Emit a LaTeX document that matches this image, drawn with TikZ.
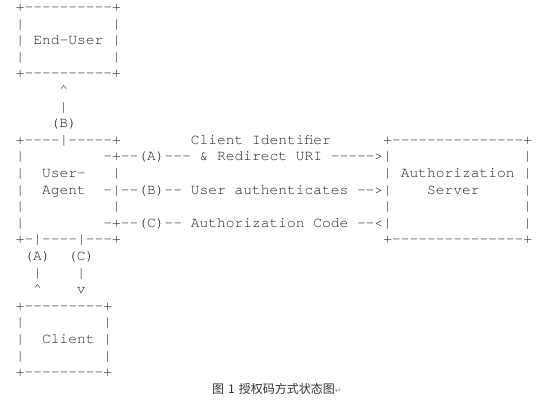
\documentclass[tikz,border=0pt]{standalone}
\usepackage{fontspec}
\setmonofont{TeX Gyre Cursor}
\newfontfamily\cjkfont{Noto Sans CJK SC}
\newfontfamily\symfont{DejaVu Sans}

\begin{document}
\begin{tikzpicture}[x=1bp, y=-1bp,
    ascii/.style={inner sep=0pt, align=left, anchor=base west, text=black!85,
        font=\fontsize{14.58bp}{16.6bp}\selectfont\ttfamily},
    linktxt/.style={ascii, align=center, anchor=base},
    caption/.style={inner sep=0pt, anchor=base west, text=black!80,
        font=\fontsize{12bp}{14bp}\selectfont\cjkfont}
]
    \useasboundingbox[fill=white] (0,0) rectangle (536,402);

    % boxes (placed at the baseline of their last row)
    \node[ascii] (enduser) at (15.6,77.9)
        {+----------+\\|~~~~~~~~~~|\\|~End-User~|\\|~~~~~~~~~~|\\+----------+};
    \node[ascii] (agent) at (15.6,243.9)
        {+----|-----+\\|~~~~~~~~~-+\\|~~User-~~~|\\|~~Agent~~-|\\|~~~~~~~~~~|\\|~~~~~~~~~-+\\+-|----|---+};
    \node[ascii] (server) at (383.1,243.9)
        {+---------------+\\|~~~~~~~~~~~~~~~|\\|~Authorization~|\\|~~~~Server~~~~~|\\|~~~~~~~~~~~~~~~|\\|~~~~~~~~~~~~~~~|\\+---------------+};
    \node[ascii] (client) at (15.6,376.7)
        {+---------+\\|~~~~~~~~~|\\|~~Client~|\\|~~~~~~~~~|\\+---------+};

    % flows
    \node[linktxt] (linkb) at (63.75,127.7) {\textasciicircum\\|\\(B)};
    \node[ascii] (flowa) at (120.6,160.9)
        {~~~~~~~~Client~Identifier\\--(A)---~\&~Redirect~URI~----->};
    \node[ascii] (flowb) at (120.6,194.1) {--(B)--~User~authenticates~-->};
    \node[ascii] (flowc) at (120.6,227.3) {--(C)--~Authorization~Code~--<};
    \node[linktxt] (linka) at (37.5,293.7) {(A)\\|\\\textasciicircum};
    \node[linktxt] (linkc) at (81.25,293.7) {(C)\\|\\v};

    \node[caption] (cap) at (212,393.5)
        {图\hspace{4bp}1\hspace{4bp}授权码方式状态图{\symfont\fontsize{8bp}{8bp}\selectfont\color{black!40}↵}};
\end{tikzpicture}
\end{document}
